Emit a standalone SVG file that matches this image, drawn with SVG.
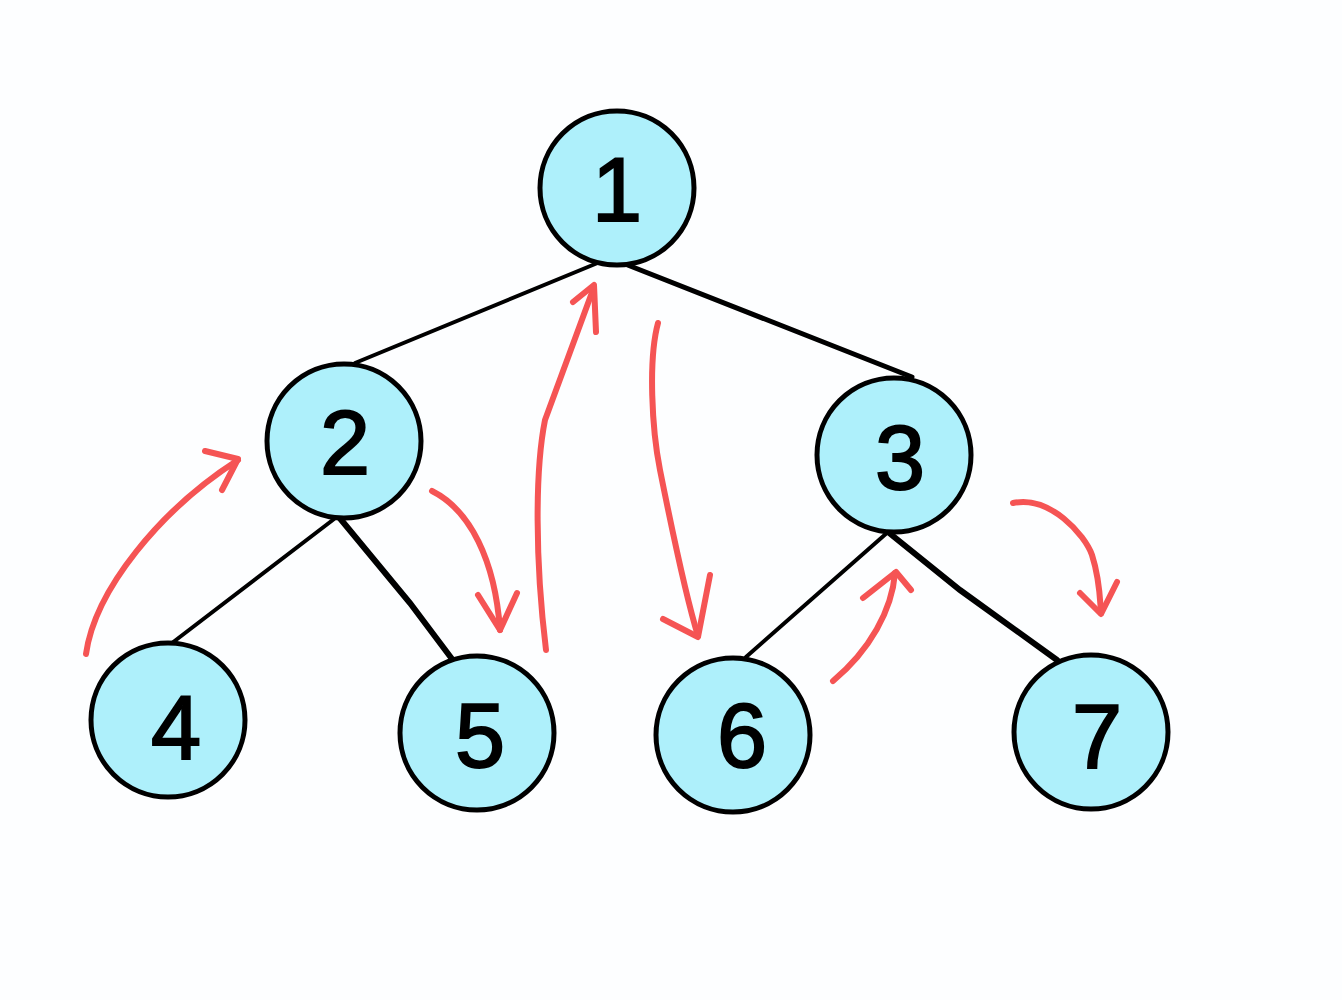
<svg xmlns="http://www.w3.org/2000/svg" width="1342" height="1000" viewBox="0 0 1342 1000">
<style>
.node circle{fill:#aef0fb;stroke:#000;stroke-width:5}
.node text{font-family:"Liberation Sans",Arial,sans-serif;font-size:90px;fill:#000;stroke:#000;stroke-width:2;text-anchor:middle;dominant-baseline:central}
.edge{stroke:#000;stroke-width:4;fill:none;stroke-linecap:round}
.trav{stroke:#f55454;stroke-width:6;fill:none;stroke-linecap:round;stroke-linejoin:round}
</style>
<rect width="1342" height="1000" fill="#fdfeff"/>
<g id="connectors">
<path class="edge" d="M600 262 L355 363"/>
<path class="edge" d="M620 262 L912 377" style="stroke-width:5"/>
<path class="edge" d="M338 516 L172 643"/>
<path class="edge" d="M338 516 L410 603 L458 667" style="stroke-width:6"/>
<path class="edge" d="M888 532 L746 657"/>
<path class="edge" d="M888 532 L960 590 L1057 660" style="stroke-width:6"/>
</g>
<g id="traversal">
<path class="trav" d="M86 654 C95 590 160 510 238 460"/>
<path class="trav" d="M205 451 L238 459 L222 490"/>
<path class="trav" d="M432 491 C470 510 495 560 500 630"/>
<path class="trav" d="M478 595 L500 630 L517 593"/>
<path class="trav" d="M546 650 C535 560 535 470 545 420 L594 287"/>
<path class="trav" d="M573 302 L594 285 L596 332"/>
<path class="trav" d="M658 323 C648 360 652 430 660 470 C680 570 690 610 698 636"/>
<path class="trav" d="M663 619 L698 637 L710 575"/>
<path class="trav" d="M833 681 C870 650 892 610 895 573"/>
<path class="trav" d="M863 598 L896 572 L911 590"/>
<path class="trav" d="M1013 503 C1050 495 1085 535 1092 555 C1100 580 1100 600 1101 613"/>
<path class="trav" d="M1080 593 L1101 614 L1117 582"/>
</g>
<g id="node1" class="node"><circle cx="617" cy="188" r="77"/><text x="617" y="190">1</text></g>
<g id="node2" class="node"><circle cx="344" cy="441" r="77"/><text x="345" y="443">2</text></g>
<g id="node3" class="node"><circle cx="894" cy="455" r="77"/><text x="900" y="458">3</text></g>
<g id="node4" class="node"><circle cx="168" cy="720" r="77"/><text x="176" y="728">4</text></g>
<g id="node5" class="node"><circle cx="477" cy="733" r="77"/><text x="480" y="736">5</text></g>
<g id="node6" class="node"><circle cx="733" cy="735" r="77"/><text x="742" y="736">6</text></g>
<g id="node7" class="node"><circle cx="1091" cy="732" r="77"/><text x="1097" y="737">7</text></g>
</svg>
